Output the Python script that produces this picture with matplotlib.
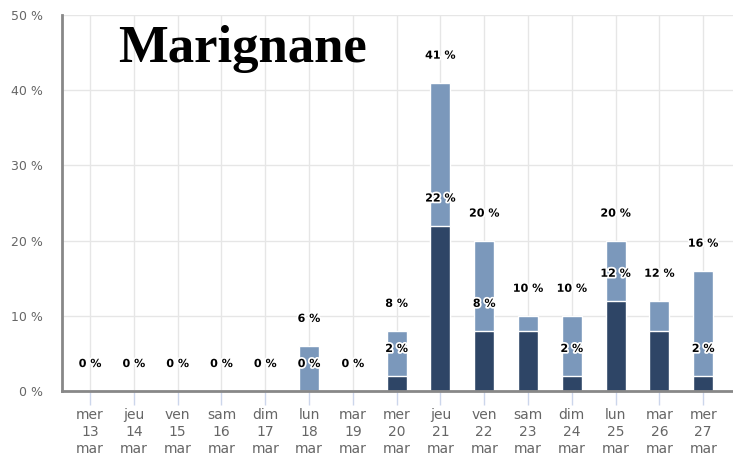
import matplotlib.pyplot as plt
import matplotlib.patheffects as pe
import numpy as np

jours = ["mer", "jeu", "ven", "sam", "dim", "lun", "mar",
         "mer", "jeu", "ven", "sam", "dim", "lun", "mar", "mer"]
dates = [13, 14, 15, 16, 17, 18, 19, 20, 21, 22, 23, 24, 25, 26, 27]
total = [0, 0, 0, 0, 0, 6, 0, 8, 41, 20, 10, 10, 20, 12, 16]
fonce = [0, 0, 0, 0, 0, 0, 0, 2, 22, 8, 8, 2, 12, 8, 2]

x = np.arange(len(dates))
labels = [f"{j}\n{d}\nmar" for j, d in zip(jours, dates)]

fig = plt.figure(figsize=(7.33, 4.57), dpi=100)
ax = fig.add_axes([62 / 733, 66 / 457, 1 - 62 / 733, (391 - 15) / 457])

w = 0.46
ax.bar(x, total, width=w, color="#7b98bb", edgecolor="white", linewidth=1, zorder=2)
ax.bar(x, fonce, width=w, color="#2e4566", edgecolor="white", linewidth=1, zorder=3)

halo = [pe.withStroke(linewidth=2.5, foreground="white")]
for i in x:
    ax.annotate(f"{total[i]} %", (i, total[i]), xytext=(0, 27), textcoords="offset pixels",
                ha="center", va="center", fontsize=8, fontweight="bold",
                path_effects=halo, zorder=5)
    # le label du bas est masqué s'il chevauche celui du total
    if total[i] - fonce[i] > 4:
        ax.annotate(f"{fonce[i]} %", (i, fonce[i]), xytext=(0, 27), textcoords="offset pixels",
                    ha="center", va="center", fontsize=8, fontweight="bold",
                    path_effects=halo, zorder=5)

ax.set_xlim(-0.64, 14.68)
ax.set_ylim(0, 50)
ax.set_yticks([0, 10, 20, 30, 40, 50])
ax.set_yticklabels([f"{v} %" for v in [0, 10, 20, 30, 40, 50]])
ax.set_xticks(x)
ax.set_xticklabels(labels, linespacing=1.28)

ax.grid(True, color="#e6e6e6", linewidth=1, zorder=0)
ax.set_axisbelow(True)
for s in ["top", "right"]:
    ax.spines[s].set_visible(False)
for s in ["left", "bottom"]:
    ax.spines[s].set_color("#888888")
    ax.spines[s].set_linewidth(2)
    ax.spines[s].set_zorder(10)

ax.tick_params(axis="y", length=0, pad=14, labelcolor="#666666", labelsize=9)
ax.tick_params(axis="x", length=10, color="#ccd6eb", width=1, pad=2,
               labelcolor="#666666", labelsize=10)

ax.text(0.083, 0.973, "Marignane", transform=ax.transAxes, ha="left", va="top",
        fontsize=38, fontweight="bold", family="Liberation Serif")

fig.savefig("out.png", dpi=100)
